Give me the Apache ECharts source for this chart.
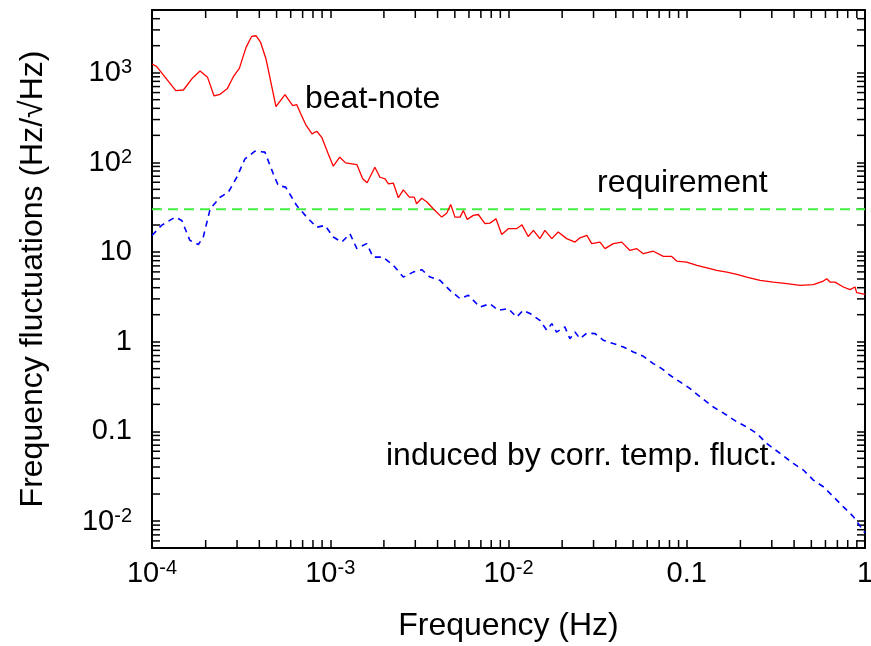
<!DOCTYPE html>
<html><head><meta charset="utf-8">
<script src="https://cdn.jsdelivr.net/npm/echarts@6/dist/echarts.min.js"></script>
<style>html,body{margin:0;padding:0;background:#fff}#c{width:871px;height:646px}</style>
</head><body><div id="c"></div>
<script>
// beat-note frequency fluctuations (Hz/sqrt(Hz))
const beatFreq = [1.00e-4,1.06e-4,1.36e-4,1.50e-4,1.69e-4,1.86e-4,2.05e-4,2.23e-4,2.41e-4,2.65e-4,2.86e-4,3.09e-4,3.37e-4,3.62e-4,3.83e-4,4.07e-4,4.36e-4,4.96e-4,5.57e-4,6.16e-4,6.48e-4,6.77e-4,7.28e-4,7.90e-4,8.40e-4,8.96e-4,9.75e-4,1.04e-3,1.13e-3,1.22e-3,1.41e-3,1.52e-3,1.61e-3,1.78e-3,1.90e-3,2.03e-3,2.12e-3,2.26e-3,2.41e-3,2.57e-3,2.78e-3,2.96e-3,3.05e-3,3.26e-3,3.50e-3,3.78e-3,4.22e-3,4.50e-3,4.74e-3,5.01e-3,5.35e-3,5.58e-3,5.87e-3,6.35e-3,6.77e-3,7.38e-3,7.87e-3,8.51e-3,9.16e-3,9.97e-3,1.11e-2,1.19e-2,1.29e-2,1.38e-2,1.50e-2,1.60e-2,1.75e-2,1.90e-2,2.12e-2,2.36e-2,2.52e-2,2.75e-2,2.93e-2,3.26e-2,3.48e-2,3.87e-2,4.32e-2,4.80e-2,5.24e-2,5.71e-2,6.49e-2,7.39e-2,8.23e-2,8.78e-2,9.99e-2,0.114,0.135,0.147,0.168,0.191,0.217,0.258,0.306,0.364,0.432,0.513,0.584,0.610,0.637,0.679,0.756,0.824,0.879,0.898,1.0];
const beatVal = [1250,1175,631,641,873,1045,887,550,573,668,902,1117,1914,2535,2582,2173,1421,418,569,430,441,361,264,208,222,190,124,90.6,114,98.7,94.5,65.5,59.1,88.1,68.2,65.4,57.6,58.5,40.3,49.4,40.9,40.9,34.5,39.8,35.9,30.4,24.5,27.1,33.9,24.5,24.5,29.1,23.1,25.6,26.2,20.7,21.0,23.5,15.7,18.2,18.2,20.1,14.9,17.4,14.1,17.4,14.1,16.7,14.1,12.9,14.4,15.3,12.4,12.9,10.9,12.4,12.9,10.4,10.9,9.57,10.2,8.93,8.93,7.92,7.72,7.10,6.52,6.24,5.97,5.63,5.25,4.83,4.62,4.44,4.25,4.32,4.74,5.04,4.62,4.62,4.07,3.80,4.07,3.52,3.37];
// induced by correlated temperature fluctuations
const tempFreq = [1.00e-4,1.13e-4,1.35e-4,1.47e-4,1.63e-4,1.82e-4,1.94e-4,2.12e-4,2.41e-4,2.68e-4,2.99e-4,3.32e-4,3.78e-4,4.30e-4,4.79e-4,5.11e-4,5.62e-4,6.48e-4,7.38e-4,8.40e-4,9.35e-4,1.04e-3,1.16e-3,1.29e-3,1.41e-3,1.60e-3,1.74e-3,1.98e-3,2.26e-3,2.57e-3,2.92e-3,3.26e-3,3.63e-3,4.13e-3,4.70e-3,5.35e-3,5.95e-3,6.92e-3,7.87e-3,8.77e-3,9.97e-3,1.11e-2,1.21e-2,1.32e-2,1.50e-2,1.64e-2,1.75e-2,1.86e-2,2.07e-2,2.21e-2,2.36e-2,2.52e-2,2.75e-2,3.06e-2,3.40e-2,3.87e-2,4.41e-2,5.01e-2,5.71e-2,6.49e-2,7.24e-2,8.06e-2,9.17e-2,0.104,0.119,0.141,0.168,0.191,0.217,0.247,0.281,0.334,0.396,0.451,0.513,0.584,0.664,0.756,0.860,1.0];
const tempVal = [15.3,19.8,24.5,22.5,13.5,12.1,14.7,30.3,40.8,46.4,68.2,109,133,130,74.5,55.2,52.9,33.0,24.5,18.9,19.8,14.7,12.9,16.0,10.9,12.4,8.77,8.77,7.10,5.25,5.97,6.35,5.25,4.83,3.73,3.02,3.29,2.43,2.65,2.24,2.34,1.88,2.24,2.06,1.73,1.34,1.59,1.28,1.46,1.08,1.28,1.08,1.25,1.23,1.04,0.953,0.873,0.768,0.687,0.570,0.501,0.422,0.356,0.301,0.242,0.187,0.151,0.128,0.112,0.0948,0.0733,0.0567,0.0439,0.0370,0.0286,0.0241,0.0187,0.0144,0.0112,0.00734];
// requirement
const reqFreq = [1e-4, 1];
const reqVal = [30, 30];

// axes
const xRange = [1e-4, 1];
const yRange = [0.005, 5000];
const xTickExp = [-4, -3, -2, -1, 0];
const xTickBase = ['10', '10', '10', '0.1', '1'];
const xTickSup = ['-4', '-3', '-2', '', ''];
const yTickExp = [-2, -1, 0, 1, 2, 3];
const yTickBase = ['10', '0.1', '1', '10', '10', '10'];
const yTickSup = ['-2', '', '', '', '2', '3'];
const minorMult = [2, 3, 4, 5, 6, 7, 8, 9];

const xMinor = [], yMinor = [];
for (let e = -4; e < 0; e++) minorMult.forEach(m => { const v = m * Math.pow(10, e); if (v > xRange[0] && v < xRange[1]) xMinor.push(v); });
for (let e = -3; e < 4; e++) minorMult.forEach(m => { const v = m * Math.pow(10, e); if (v > yRange[0] * 1.0001 && v < yRange[1] * 0.9999) yMinor.push(v); });

const FONT = 'Liberation Sans, Arial, Helvetica, sans-serif';
const pairs = (a, b) => a.map((v, i) => [v, b[i]]);

const rich = {
  b: { fontSize: 29, lineHeight: 30, padding: [8, 0, 0, 0], verticalAlign: 'bottom', color: '#000', fontFamily: FONT },
  s: { fontSize: 20, lineHeight: 20, verticalAlign: 'top', color: '#000', fontFamily: FONT },
  q: { fontSize: 29, lineHeight: 30, color: '#000', fontFamily: FONT }
};
function xFmt(v) {
  const e = Math.round(Math.log10(v)); const i = xTickExp.indexOf(e);
  if (i < 0) return '';
  return xTickSup[i] ? `{b|${xTickBase[i]}}{s|${xTickSup[i]}}` : `{b|${xTickBase[i]}}`;
}
function yFmt(v) {
  const e = Math.round(Math.log10(v)); const i = yTickExp.indexOf(e);
  if (i < 0) return '';
  return yTickSup[i] ? `{b|${yTickBase[i]}}{s|${yTickSup[i]}}` : `{q|${yTickBase[i]}}`;
}

const tickStyle = { color: '#000', width: 1.5 };
const lineStyleAxis = { color: '#000', width: 2 };

function minorX(params, api) {
  const cs = params.coordSys;
  const x = api.coord([api.value(0), 1])[0];
  const b = cs.y + cs.height, t = cs.y;
  return { type: 'group', children: [
    { type: 'line', shape: { x1: x, y1: b, x2: x, y2: b - 8 }, style: { stroke: '#000', lineWidth: 1.5 } },
    { type: 'line', shape: { x1: x, y1: t, x2: x, y2: t + 8 }, style: { stroke: '#000', lineWidth: 1.5 } }
  ] };
}
function minorY(params, api) {
  const cs = params.coordSys;
  const y = api.coord([1e-3, api.value(1)])[1];
  const l = cs.x, r = cs.x + cs.width;
  return { type: 'group', children: [
    { type: 'line', shape: { x1: l, y1: y, x2: l + 8, y2: y }, style: { stroke: '#000', lineWidth: 1.5 } },
    { type: 'line', shape: { x1: r, y1: y, x2: r - 8, y2: y }, style: { stroke: '#000', lineWidth: 1.5 } }
  ] };
}

const chart = echarts.init(document.getElementById('c'));
chart.setOption({
  animation: false,
  backgroundColor: '#fff',
  textStyle: { fontFamily: FONT },
  grid: { left: 152, top: 10, right: 6, bottom: 98, containLabel: false, outerBoundsMode: 'none' },
  xAxis: [
    { type: 'log', min: xRange[0], max: xRange[1], position: 'bottom',
      name: 'Frequency (Hz)', nameLocation: 'middle', nameGap: 62,
      nameTextStyle: { fontSize: 32, color: '#000', fontFamily: FONT },
      axisLine: { lineStyle: lineStyleAxis },
      axisTick: { inside: true, length: 8, lineStyle: tickStyle },
      splitLine: { show: false }, minorTick: { show: false },
      axisLabel: { margin: 10, formatter: xFmt, rich: rich, showMinLabel: true, showMaxLabel: true, hideOverlap: false } },
    { type: 'log', min: xRange[0], max: xRange[1], position: 'top',
      axisLine: { lineStyle: lineStyleAxis },
      axisTick: { inside: true, length: 8, lineStyle: tickStyle },
      splitLine: { show: false }, axisLabel: { show: false } }
  ],
  yAxis: [
    { type: 'log', min: yRange[0], max: yRange[1], position: 'left',
      name: 'Frequency fluctuations (Hz/\u221AHz)', nameLocation: 'middle', nameGap: 103,
      nameTextStyle: { fontSize: 32, color: '#000', fontFamily: FONT },
      axisLine: { lineStyle: lineStyleAxis },
      axisTick: { inside: true, length: 8, lineStyle: tickStyle },
      splitLine: { show: false },
      axisLabel: { margin: 20, formatter: yFmt, rich: rich, showMinLabel: false, showMaxLabel: false, hideOverlap: false } },
    { type: 'log', min: yRange[0], max: yRange[1], position: 'right',
      axisLine: { lineStyle: lineStyleAxis },
      axisTick: { inside: true, length: 8, lineStyle: tickStyle },
      splitLine: { show: false }, axisLabel: { show: false } }
  ],
  graphic: [
    { type: 'text', left: 305, top: 83, style: { text: 'beat-note', font: '32px ' + FONT, fill: '#000' } },
    { type: 'text', left: 597, top: 167, style: { text: 'requirement', font: '32px ' + FONT, fill: '#000' } },
    { type: 'text', left: 386, top: 440, style: { text: 'induced by corr. temp. fluct.', font: '32px ' + FONT, fill: '#000' } }
  ],
  series: [
    { type: 'custom', silent: true, renderItem: minorX, data: xMinor.map(v => [v, 1]), z: 1 },
    { type: 'custom', silent: true, renderItem: minorY, data: yMinor.map(v => [1e-3, v]), z: 1 },
    { name: 'requirement', type: 'line', data: pairs(reqFreq, reqVal), showSymbol: false, symbol: 'none',
      lineStyle: { color: '#44ee44', width: 2, type: [10, 6] }, z: 3 },
    { name: 'induced', type: 'line', data: pairs(tempFreq, tempVal), showSymbol: false, symbol: 'none',
      lineStyle: { color: '#0000ff', width: 1.6, type: [6, 5] }, z: 4 },
    { name: 'beat-note', type: 'line', data: pairs(beatFreq, beatVal), showSymbol: false, symbol: 'none',
      lineStyle: { color: '#ff0000', width: 1.3 }, z: 5 }
  ]
});
</script></body></html>
